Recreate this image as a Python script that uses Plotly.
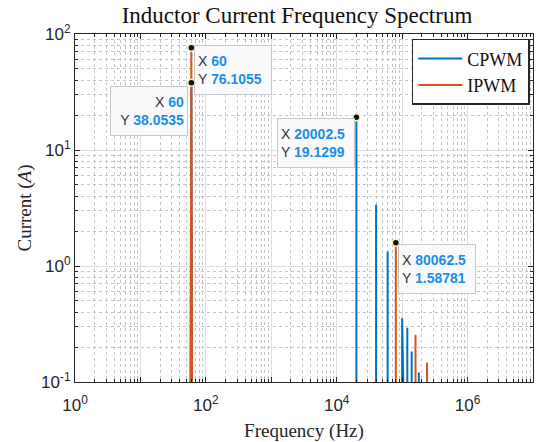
import numpy as np
import plotly.graph_objects as go

# ---- data ----
freq_bin = 2.5          # FFT bin spacing (Hz)
noise_floor = 1e-3      # spectrum level between harmonics (below visible range)

cpwm_peak_freq = [60, 20002.5, 40000, 60000, 100000, 120000, 140000, 180000]
cpwm_peak_mag = [38.0535, 19.1299, 3.37, 1.335, 0.354, 0.294, 0.183, 0.121]

ipwm_peak_freq = [60, 80062.5, 160000, 240000]
ipwm_peak_mag = [76.1055, 1.58781, 0.256, 0.147]

tip_x = [60, 60, 20002.5, 80062.5]
tip_y = [76.1055, 38.0535, 19.1299, 1.58781]

x_tickvals = [1, 10, 1e2, 1e3, 1e4, 1e5, 1e6, 1e7]
x_ticktext = ["10<sup>0</sup>", "", "10<sup>2</sup>", "", "10<sup>4</sup>", "", "10<sup>6</sup>", ""]
y_tickvals = [0.1, 1, 10, 100]
y_ticktext = ["10<sup>-1</sup>", "10<sup>0</sup>", "10<sup>1</sup>", "10<sup>2</sup>"]

BLUE = "#0072BD"
ORANGE = "#D95319"
SERIF = "Liberation Serif, Times New Roman, serif"
SANS = "Liberation Sans, Arial, Helvetica, sans-serif"


def spectrum(peak_f, peak_m):
    xs, ys = [freq_bin], [noise_floor]
    for f, m in zip(peak_f, peak_m):
        xs += [f - freq_bin, f, f + freq_bin]
        ys += [noise_floor, m, noise_floor]
    xs.append(1e6)
    ys.append(noise_floor)
    return xs, ys


fig = go.Figure()
cx, cy = spectrum(cpwm_peak_freq, cpwm_peak_mag)
ix, iy = spectrum(ipwm_peak_freq, ipwm_peak_mag)
fig.add_trace(go.Scatter(x=cx, y=cy, mode="lines", name="CPWM",
                         line=dict(color=BLUE, width=2)))
fig.add_trace(go.Scatter(x=ix, y=iy, mode="lines", name="IPWM",
                         line=dict(color=ORANGE, width=2)))
fig.add_trace(go.Scatter(x=tip_x, y=tip_y, mode="markers", showlegend=False,
                         marker=dict(color="#111111", size=7,
                                     line=dict(color="#f4efb8", width=1.5))))

# data tips
tip_layout = [
    dict(xanchor="left", xshift=3, yanchor="top", yshift=3, align="left"),
    dict(xanchor="right", xshift=-3, yanchor="top", yshift=-3, align="right"),
    dict(xanchor="right", xshift=-1, yanchor="top", yshift=-1, align="left"),
    dict(xanchor="left", xshift=2, yanchor="top", yshift=-1, align="left"),
]
VAL = "#1a8fe8"
for xv, yv, lay in zip(tip_x, tip_y, tip_layout):
    txt = (f"<span style='color:#333333'>X</span> <b><span style='color:{VAL}'>{xv:g}</span></b><br>"
           f"<span style='color:#333333'>Y</span> <b><span style='color:{VAL}'>{yv:g}</span></b>")
    fig.add_annotation(x=np.log10(xv), y=np.log10(yv), xref="x", yref="y",
                       text=txt, showarrow=False, width=70, height=42,
                       bgcolor="rgba(250,250,253,0.93)", bordercolor="#c8c8c8",
                       borderwidth=1, borderpad=3,
                       font=dict(family=SANS, size=14), **lay)

axis_common = dict(
    type="log", showline=True, linecolor="#262626", linewidth=1, mirror="allticks",
    ticks="inside", ticklen=5, tickcolor="#262626",
    showgrid=True, gridcolor="#dedede", gridwidth=1,
    zeroline=False,
    tickfont=dict(family=SANS, size=17, color="#262626"),
    minor=dict(dtick="D1", ticks="inside", ticklen=3, tickcolor="#262626", showgrid=True,
               gridcolor="#c4c4c4", griddash="dot", gridwidth=1),
)

fig.update_xaxes(range=[0, 7], tickmode="array", tickvals=x_tickvals, ticktext=x_ticktext,
                 ticklabelstandoff=8,
                 title=dict(text="Frequency (Hz)", font=dict(family=SERIF, size=19, color="#262626"),
                            standoff=10),
                 **axis_common)
fig.update_yaxes(range=[-1, 2], tickmode="array", tickvals=y_tickvals, ticktext=y_ticktext,
                 title=dict(text="Current (<i>A</i>)", font=dict(family=SERIF, size=19, color="#262626"),
                            standoff=4),
                 **axis_common)

fig.update_layout(
    width=537, height=442,
    margin=dict(l=75, r=4, t=34, b=60),
    paper_bgcolor="white", plot_bgcolor="white",
    title=dict(text="Inductor Current Frequency Spectrum", x=0.553, xanchor="center",
               xref="container", y=0.985, yanchor="top",
               font=dict(family=SERIF, size=23, color="#111111")),
    legend=dict(x=0.993, xanchor="right", y=0.986, yanchor="top",
                bgcolor="white", bordercolor="#262626", borderwidth=1.5,
                itemwidth=44,
                font=dict(family=SERIF, size=18, color="#111111")),
    hovermode=False,
)

fig.write_html("out.html")
